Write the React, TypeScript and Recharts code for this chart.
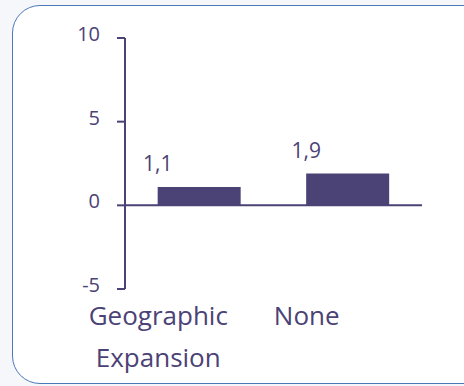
import React from 'react';
import { BarChart, Bar, XAxis, YAxis, ReferenceLine, LabelList } from 'recharts';

const categories = ['Geographic Expansion', 'None'];
const values = [1.1, 1.9];
const yTicks = [-5, 0, 5, 10];

const data = categories.map((name, i) => ({ name, value: values[i] }));

const ink = '#4b4275';
const font = '"Open Sans", sans-serif';

const CategoryTick = (props: any) => {
  const { x, y, payload } = props;
  const words = String(payload.value).split(' ');
  return (
    <text
      x={x - 41}
      y={y}
      textAnchor="middle"
      fill={ink}
      fontSize={26}
      fontFamily={font}
    >
      {words.map((w, i) => (
        <tspan key={w} x={x - 41} dy={i === 0 ? 36 : 42}>
          {w}
        </tspan>
      ))}
    </text>
  );
};

const ValueLabel = (props: any) => {
  const { x, y, value } = props;
  return (
    <text
      x={x}
      y={y - 16}
      textAnchor="middle"
      fill={ink}
      fontSize={21}
      fontFamily={font}
    >
      {String(value).replace('.', ',')}
    </text>
  );
};

export default function App() {
  return (
    <div
      style={{
        position: 'fixed',
        left: 0,
        top: 0,
        width: 464,
        height: 386,
        background: '#f5f7fb',
        overflow: 'hidden',
      }}
    >
      <div
        style={{
          position: 'absolute',
          left: 12,
          top: 5,
          width: 480,
          height: 377,
          border: '1.5px solid #4a78b8',
          borderRadius: 28,
          background: '#ffffff',
        }}
      />
      <div style={{ position: 'absolute', left: 0, top: 0 }}>
        <BarChart
          width={464}
          height={386}
          data={data}
          margin={{ top: 38, right: 42, left: 0, bottom: 0 }}
          barCategoryGap="22%"
        >
          <XAxis
            dataKey="name"
            height={97}
            axisLine={false}
            tickLine={false}
            tickSize={0}
            tickMargin={0}
            interval={0}
            tick={<CategoryTick />}
          />
          <YAxis
            width={125}
            domain={[-5, 10]}
            ticks={yTicks}
            interval={0}
            axisLine={{ stroke: ink, strokeWidth: 2 }}
            tickLine={{ stroke: ink, strokeWidth: 2 }}
            tickSize={8}
            tickMargin={17}
            tick={{ fill: ink, fontSize: 20, fontFamily: font, dy: -4 }}
          />
          <ReferenceLine y={0} stroke={ink} strokeWidth={2} ifOverflow="extendDomain" />
          <Bar dataKey="value" fill={ink} isAnimationActive={false}>
            <LabelList dataKey="value" content={<ValueLabel />} />
          </Bar>
        </BarChart>
      </div>
    </div>
  );
}
